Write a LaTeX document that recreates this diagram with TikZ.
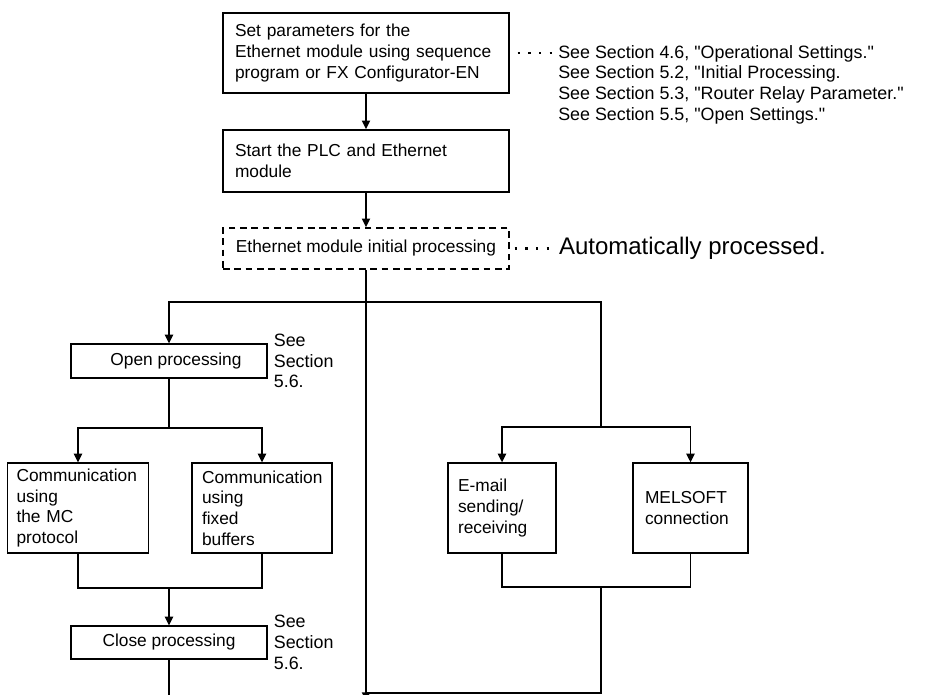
\documentclass[tikz,border=0pt]{standalone}
\usepackage{fontspec}
\setmainfont{Liberation Sans}[Ligatures=TeXOff]
\usetikzlibrary{positioning,arrows.meta}
\newdimen\pix \pix=0.75pt

\begin{document}
\begin{tikzpicture}[x=0.75pt, y=-0.75pt,
    box/.style={rectangle, draw, line width=0.9pt, inner sep=0pt, align=left,
        font=\fontsize{13}{15.5}\selectfont},
    dbox/.style={box, line width=1.1pt, dash pattern=on 5pt off 3.5pt},
    note/.style={inner sep=0pt, align=left, font=\fontsize{13.4}{15.5}\selectfont},
    line/.style={line width=1.4pt},
    arr/.style={line, -{Triangle[length=6.5pt, width=6pt]}},
    leader/.style={line width=1.6pt, dash pattern=on 1.6pt off 6.4pt}
]
\useasboundingbox (0,0) rectangle (950,695);
\clip (0,0) rectangle (950,695);

% main column
\node [box, line width=1.1pt, minimum width=286\pix, minimum height=80\pix, text width=262\pix] (set) at (366,53)
    {Set parameters for the\\Ethernet module using sequence\\program or FX Configurator-EN};
\node [box, line width=1.1pt, minimum width=286\pix, minimum height=62\pix, text width=262\pix] (start) at (366,161)
    {Start the PLC and Ethernet\\module};
\node [dbox, minimum width=286\pix, minimum height=41\pix, align=center] (init) at (366,248.5)
    {Ethernet module initial processing};

% left branch
\node [box, minimum width=196\pix, minimum height=34\pix, align=center] (open) at (169,361) {\hspace*{14\pix}Open processing};
\node [box, minimum width=141\pix, minimum height=90\pix, text width=123\pix] (mc) at (78,508)
    {Communication\\using\\the MC\\protocol};
\node [box, minimum width=140\pix, minimum height=90\pix, text width=120\pix] (fixed) at (262,508)
    {Communication\\using\\fixed\\buffers};
\node [box, minimum width=196\pix, minimum height=33\pix, align=center] (close) at (169,642.5) {Close processing};

% right branch
\node [box, minimum width=108\pix, minimum height=90\pix, text width=88\pix] (email) at (502,508)
    {E-mail\\sending/\\receiving};
\node [box, minimum width=115\pix, minimum height=90\pix, text width=91\pix] (melsoft) at (690.5,508)
    {MELSOFT\\connection};

% side notes
\node [note, anchor=north west] (refs) at (558,45)
    {See Section 4.6, "Operational Settings."\\See Section 5.2, "Initial Processing.\\See Section 5.3, "Router Relay Parameter."\\See Section 5.5, "Open Settings."};
\node [note, font=\fontsize{18}{20}\selectfont, right=49\pix of init] (auto) {Automatically processed.};
\node [note, right=6\pix of open] (opennote) {See\\Section\\5.6.};
\node [note, right=6\pix of close] (closenote) {See\\Section\\5.6.};

\draw [leader] ([xshift=8\pix]set.east) -- ([xshift=-6\pix]set.east -| refs.west);
\draw [leader] ([xshift=5\pix]init.east) -- ([xshift=-9\pix]auto.west);

% connectors
\coordinate (fork) at (366,302);
\coordinate (bottom) at (366,701);
\coordinate (lfork) at (169,428);
\coordinate (ljoin) at (169,588);
\coordinate (rfork) at (601,427);
\coordinate (rjoin) at (601,587);
\coordinate (rcorner) at (601,693);

\draw [arr] (set) -- (start);
\draw [arr] (start) -- (init);
\draw [arr] (init) -- (bottom);
\draw [arr] (fork) -| (open);
\draw [line] (fork) -| (rfork);

\draw [line] (open) -- (lfork);
\draw [arr] (lfork) -| (mc);
\draw [arr] (lfork) -| (fixed);
\draw [line] (mc) |- (ljoin) -| (fixed);
\draw [arr] (ljoin) -- (close);
\draw [line] (close) -- (close |- bottom);

\draw [arr] (rfork) -| (email);
\draw [arr] (rfork) -| (melsoft);
\draw [line] (email) |- (rjoin) -| (melsoft);
\draw [line] (rjoin) -- (rcorner) -- (rcorner -| fork);

\end{tikzpicture}
\end{document}
